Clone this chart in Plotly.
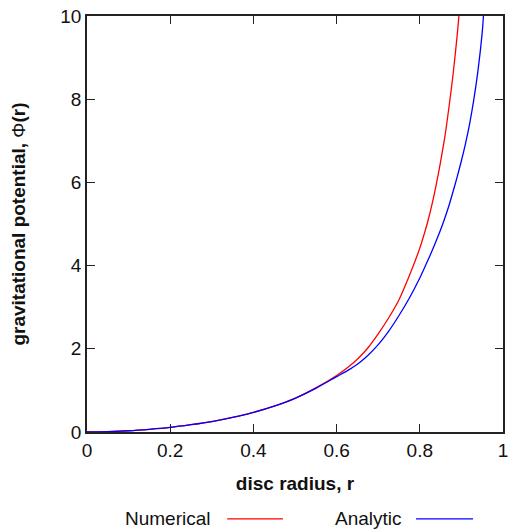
import plotly.graph_objects as go

# Numerical solution
r_num = [0.0, 0.05, 0.1, 0.15, 0.2, 0.25, 0.3, 0.35, 0.4, 0.45, 0.5, 0.55, 0.6,
         0.625, 0.65, 0.675, 0.7, 0.725, 0.75, 0.775, 0.8, 0.81, 0.82, 0.83, 0.84,
         0.85, 0.86, 0.87, 0.88, 0.89, 0.894]
phi_num = [0.0, 0.01, 0.03, 0.065, 0.11, 0.175, 0.25, 0.35, 0.47, 0.62, 0.81, 1.06,
           1.36, 1.54, 1.75, 2.02, 2.36, 2.74, 3.18, 3.76, 4.42, 4.74, 5.09, 5.5,
           5.97, 6.5, 7.08, 7.8, 8.6, 9.55, 10.0]

# Analytic solution
r_ana = [0.0, 0.05, 0.1, 0.15, 0.2, 0.25, 0.3, 0.35, 0.4, 0.45, 0.5, 0.55, 0.6,
         0.625, 0.65, 0.675, 0.7, 0.725, 0.75, 0.775, 0.8, 0.81, 0.82, 0.83, 0.84,
         0.85, 0.86, 0.87, 0.88, 0.89, 0.9, 0.91, 0.92, 0.93, 0.94, 0.95, 0.953]
phi_ana = [0.0, 0.01, 0.03, 0.065, 0.11, 0.175, 0.25, 0.35, 0.47, 0.62, 0.81, 1.05,
           1.33, 1.47, 1.63, 1.84, 2.1, 2.42, 2.8, 3.22, 3.7, 3.92, 4.14, 4.37, 4.61,
           4.86, 5.14, 5.44, 5.78, 6.14, 6.52, 6.94, 7.42, 8.0, 8.7, 9.6, 10.0]

x_ticks = [0, 0.2, 0.4, 0.6, 0.8, 1]
x_tick_text = ["0", "0.2", "0.4", "0.6", "0.8", "1"]
y_ticks = [0, 2, 4, 6, 8, 10]
y_tick_text = ["0", "2", "4", "6", "8", "10"]

legend_names = ["Numerical", "Analytic"]
colors = ["#ff0000", "#0000ff"]

FONT = "Liberation Sans, Arial, sans-serif"

fig = go.Figure()
fig.add_trace(go.Scatter(x=r_num, y=phi_num, mode="lines", name=legend_names[0],
                         line=dict(color=colors[0], width=1.3, shape="spline", smoothing=0.8),
                         showlegend=False))
fig.add_trace(go.Scatter(x=r_ana, y=phi_ana, mode="lines", name=legend_names[1],
                         line=dict(color=colors[1], width=1.3, shape="spline", smoothing=0.8),
                         showlegend=False))

axis_common = dict(showline=True, linecolor="#222222", linewidth=1.5, mirror="ticks",
                   ticks="inside", ticklen=8, tickwidth=1.4, tickcolor="#222222",
                   showgrid=False, zeroline=False, automargin=False,
                   tickfont=dict(family=FONT, size=19, color="#111111"))

fig.update_layout(
    width=509, height=531,
    margin=dict(l=87, r=6, t=16, b=99),
    paper_bgcolor="white", plot_bgcolor="white",
    font=dict(family=FONT, size=19, color="#111111"),
    xaxis=dict(range=[0, 1], tickvals=x_ticks, ticktext=x_tick_text,
               title=dict(text="<b>disc radius, r</b>", standoff=17,
                          font=dict(family=FONT, size=19)),
               **axis_common),
    yaxis=dict(range=[0, 10], tickvals=y_ticks, ticktext=y_tick_text,
               title=dict(text="<b>gravitational potential, </b>Φ<b>(r)</b>", standoff=30,
                          font=dict(family=FONT, size=19)),
               **axis_common),
)

# gnuplot-style key: text followed by line sample
key_y = -0.209
text_right = [0.303, 0.762]
line_x = [(0.337, 0.471), (0.791, 0.928)]
for name, col, tx, (x0, x1) in zip(legend_names, colors, text_right, line_x):
    fig.add_annotation(x=tx, y=key_y, xref="paper", yref="paper", text=name,
                       showarrow=False, xanchor="right", yanchor="middle",
                       font=dict(family=FONT, size=19, color="#111111"))
    fig.add_shape(type="line", xref="paper", yref="paper", x0=x0, x1=x1,
                  y0=key_y, y1=key_y, line=dict(color=col, width=1.3))

fig.write_html("out.html", config={"displayModeBar": False},
               post_script="document.body.style.margin='0';document.body.style.overflow='hidden';")
